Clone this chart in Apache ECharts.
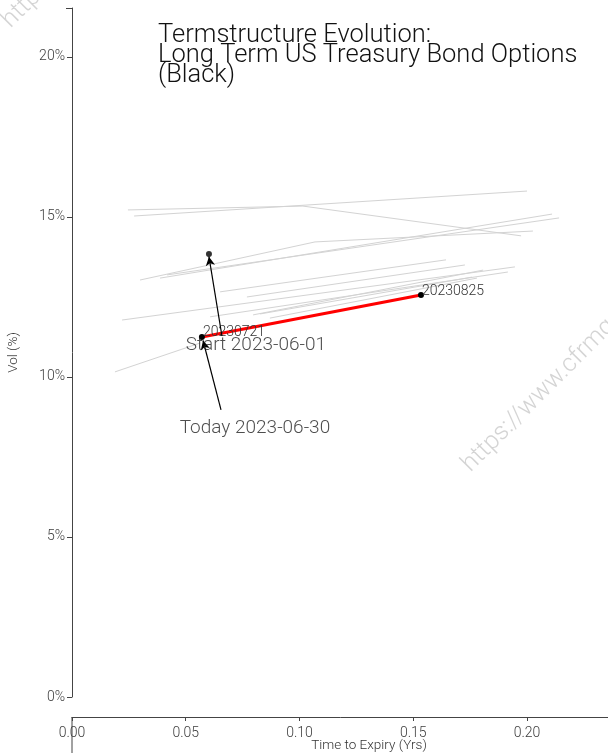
<!DOCTYPE html>
<html>
<head>
<meta charset="utf-8">
<script src="https://cdn.jsdelivr.net/npm/echarts@6/dist/echarts.min.js"></script>
<style>html,body{margin:0;padding:0;background:#fff}#c{width:608px;height:753px}</style>
</head>
<body>
<div id="c"></div>
<script>
// historical term structures (time to expiry in yrs, vol in %)
const histX = [
  [0.0246, 0.1015, 0.1974],
  [0.0273, 0.2000],
  [0.0299, 0.1068, 0.2026],
  [0.0387, 0.2110],
  [0.0418, 0.2141],
  [0.0651, 0.1644],
  [0.0769, 0.1727],
  [0.0220, 0.1947],
  [0.0796, 0.1807],
  [0.0607, 0.1916],
  [0.0189, 0.0563],
  [0.0827, 0.1758],
  [0.0870, 0.1780]
];
const histY = [
  [15.22, 15.34, 14.41],
  [15.03, 15.81],
  [13.03, 14.22, 14.56],
  [13.09, 15.09],
  [13.19, 14.97],
  [12.66, 13.66],
  [12.50, 13.50],
  [11.78, 13.44],
  [11.94, 13.34],
  [11.88, 13.28],
  [10.16, 11.06],
  [11.97, 13.12],
  [11.84, 13.09]
];
const todayX = [0.0571, 0.1534];
const todayY = [11.25, 12.56];
const todayLabels = ['20230721', '20230825'];
const startPt = [0.0602, 13.84];
const startText = 'Start 2023-06-01';
const todayText = 'Today 2023-06-30';
const startTextPos = [0.0808, 10.98];
const todayTextPos = [0.0804, 8.40];
const startArrowFrom = [0.0659, 11.28];
const todayArrowFrom = [0.0655, 8.97];
const todayArrowTo = [0.0576, 11.14];
const startArrowTo = [0.0602, 13.76];
const xTicks = [0, 0.05, 0.10, 0.15, 0.20, 0.25];
const yTicks = [0, 5, 10, 15, 20];

const FONT = 'Roboto';
const series = [];
histX.forEach((xs, i) => {
  series.push({
    type: 'line', silent: true, symbol: 'none',
    data: xs.map((x, j) => [x, histY[i][j]]),
    lineStyle: { color: '#d3d3d3', width: 1 }, z: 1
  });
});
series.push({
  type: 'line', symbol: 'circle', symbolSize: 6,
  data: todayX.map((x, j) => ({ value: [x, todayY[j]], label: { formatter: todayLabels[j] } })),
  lineStyle: { color: '#ff0000', width: 3 },
  itemStyle: { color: '#000' },
  label: { show: true, position: 'right', offset: [-7, -4], fontFamily: FONT, fontWeight: 300, fontSize: 14, color: '#333' },
  z: 3
});
series.push({
  type: 'scatter', symbolSize: 6, itemStyle: { color: '#000' },
  data: [startPt], z: 4
});
series.push({
  type: 'scatter', symbolSize: 0,
  data: [
    { value: startTextPos, label: { formatter: startText } },
    { value: todayTextPos, label: { formatter: todayText } }
  ],
  label: { show: true, position: 'inside', fontFamily: FONT, fontWeight: 300, fontSize: 19, color: '#222' },
  z: 5,
  markLine: {
    silent: true, symbol: ['none', 'arrow'], symbolSize: [7, 9],
    label: { show: false },
    lineStyle: { color: '#000', width: 1.2, type: 'solid' },
    data: [
      [{ coord: startArrowFrom }, { coord: startArrowTo }],
      [{ coord: todayArrowFrom }, { coord: todayArrowTo }]
    ]
  }
});

const chart = echarts.init(document.getElementById('c'));
chart.setOption({
  animation: false,
  backgroundColor: '#fff',
  title: {
    text: 'Termstructure Evolution:\nLong Term US Treasury Bond Options\n(Black)',
    left: 153, top: 21,
    textStyle: { fontFamily: FONT, fontWeight: 300, fontSize: 25.5, lineHeight: 20, color: '#111' }
  },
  grid: { left: 72, top: 8, width: 594, height: 689, outerBoundsMode: 'none', containLabel: false },
  xAxis: {
    type: 'value', min: 0, max: 0.2611, interval: 0.05, offset: 20,
    name: 'Time to Expiry (Yrs)', nameLocation: 'middle', nameGap: 22, nameMoveOverlap: false,
    nameTextStyle: { fontFamily: FONT, fontWeight: 300, fontSize: 13.5, color: '#333' },
    axisLine: { show: true, onZero: false, lineStyle: { color: '#444', width: 1 } },
    axisTick: { show: true, length: 4, lineStyle: { color: '#444' } },
    axisLabel: { fontFamily: FONT, fontWeight: 300, fontSize: 14, color: '#3d3d3d', margin: 9,
      formatter: v => xTicks.some(t => Math.abs(t - v) < 1e-9) ? v.toFixed(2) : '' },
    splitLine: { show: false }
  },
  yAxis: {
    type: 'value', min: 0, max: 21.53, interval: 5,
    name: 'Vol (%)', nameLocation: 'middle', nameGap: 51, nameRotate: 90, nameMoveOverlap: false,
    nameTextStyle: { fontFamily: FONT, fontWeight: 300, fontSize: 13.5, color: '#333' },
    axisLine: { show: true, onZero: false, lineStyle: { color: '#444', width: 1 } },
    axisTick: { show: true, length: 5, lineStyle: { color: '#444' } },
    axisLabel: { fontFamily: FONT, fontWeight: 300, fontSize: 14, color: '#3d3d3d', margin: 7,
      formatter: v => yTicks.includes(v) ? v + '%' : '' },
    splitLine: { show: false }
  },
  graphic: [
    { type: 'line', shape: { x1: 72, y1: 717, x2: 72, y2: 753 }, style: { stroke: '#444', lineWidth: 1 } },
    { type: 'line', shape: { x1: 66, y1: 8.5, x2: 72, y2: 8.5 }, style: { stroke: '#444', lineWidth: 1 } },
    { type: 'text', x: 475, y: 477, rotation: Math.PI / 4, z: 100,
      style: { text: 'https://www.cfrmq.com', fontFamily: FONT, fontWeight: 300, fontSize: 25, fill: 'rgba(170,170,170,0.5)', textAlign: 'left', textVerticalAlign: 'bottom' } },
    { type: 'text', x: 15, y: 33, rotation: Math.PI / 4, z: 100,
      style: { text: 'https://www.cfrmq.com', fontFamily: FONT, fontWeight: 300, fontSize: 25, fill: 'rgba(170,170,170,0.5)', textAlign: 'left', textVerticalAlign: 'bottom' } }
  ],
  series: series
});
</script>
</body>
</html>
